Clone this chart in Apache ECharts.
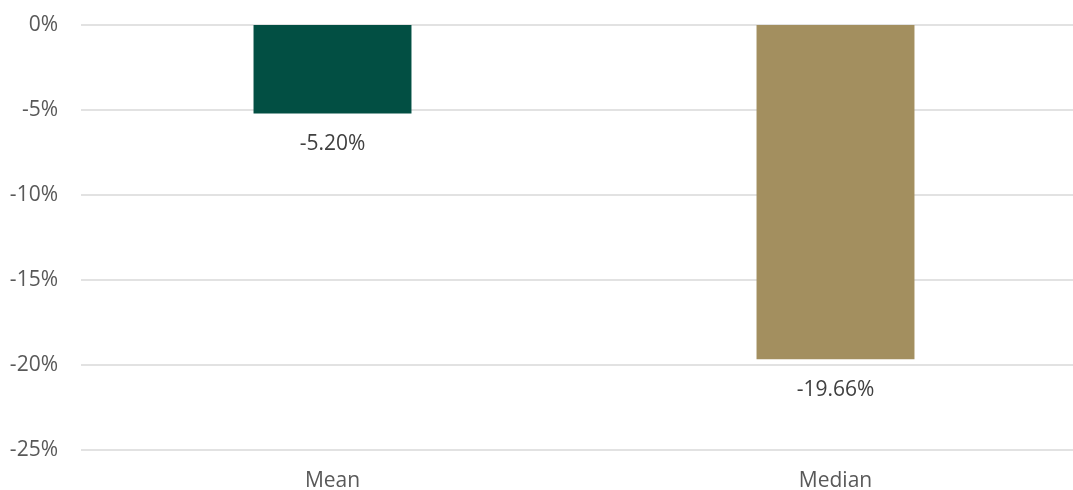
<!DOCTYPE html>
<html><head><meta charset="utf-8">
<script src="https://cdn.jsdelivr.net/npm/echarts@6/dist/echarts.min.js"></script>
<style>html,body{margin:0;padding:0;background:#fff}#c{width:1073px;height:490px}</style>
</head><body><div id="c"></div>
<script>
const categories = ['Mean', 'Median'];
const values = [-5.20, -19.66];
const barColors = ['#024F43', '#A38F5F'];
const yTicks = { min: -25, max: 0, interval: 5 };

const chart = echarts.init(document.getElementById('c'), null, { renderer: 'canvas' });
chart.setOption({
  animation: false,
  grid: { left: 81, top: 25, bottom: 40, right: -14, containLabel: false, outerBoundsMode: 'none' },
  xAxis: {
    type: 'category', data: categories, position: 'bottom',
    axisLine: { show: false, onZero: false }, axisTick: { show: false },
    axisLabel: { color: '#595959', fontSize: 21, fontFamily: 'Open Sans', margin: 21 }
  },
  yAxis: {
    type: 'value', min: yTicks.min, max: yTicks.max, interval: yTicks.interval,
    axisLabel: { formatter: v => v + '%', color: '#595959', fontSize: 21, fontFamily: 'Open Sans', margin: 23 },
    splitLine: { lineStyle: { color: '#d9d9d9', width: 1.5 } },
    axisLine: { show: false }, axisTick: { show: false }
  },
  series: [{
    type: 'bar', barWidth: '31.4%',
    data: values.map((v, i) => ({ value: v, itemStyle: { color: barColors[i] } })),
    label: { show: true, position: 'bottom', distance: 20, formatter: p => p.value.toFixed(2) + '%',
      color: '#404040', fontSize: 21, fontFamily: 'Open Sans' }
  }]
});
</script></body></html>
